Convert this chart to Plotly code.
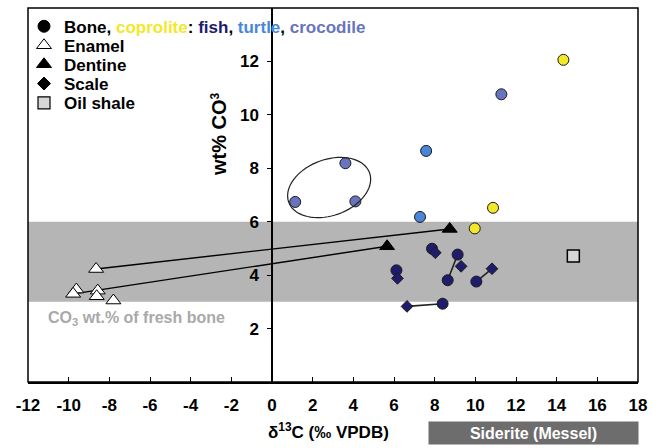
import math
import plotly.graph_objects as go

# ---------------- data ----------------
X_RANGE = [-12, 18]
Y_RANGE = [0, 14]
x_ticks = list(range(-12, 19, 2))
x_tick_labels = [str(v) for v in x_ticks]
y_ticks = [2, 4, 6, 8, 10, 12]
y_tick_labels = [str(v) for v in y_ticks]

enamel_x = [-8.65, -9.62, -9.78, -8.57, -8.62, -7.80]
enamel_y = [4.23, 3.46, 3.30, 3.42, 3.21, 3.05]
dentine_x = [5.66, 8.74]
dentine_y = [5.08, 5.73]
# enamel index -> dentine index
enamel_dentine_links = [(0, 1), (2, 0)]

fish_bone_x = [7.87, 9.13, 6.12, 8.64, 10.05, 8.39]
fish_bone_y = [4.99, 4.77, 4.18, 3.81, 3.76, 2.93]
fish_scale_x = [8.03, 9.30, 6.17, 10.82, 6.64]
fish_scale_y = [4.84, 4.33, 3.88, 4.24, 2.83]
# links: (kind, idx, kind, idx)
fish_links = [("bone", 1, "bone", 3), ("bone", 4, "scale", 3), ("scale", 4, "bone", 5)]

coprolite_x = [9.97, 10.87, 14.33]
coprolite_y = [5.75, 6.52, 12.06]
turtle_x = [7.58, 7.28]
turtle_y = [8.65, 6.18]
croc_x = [3.61, 1.14, 4.10, 11.28]
croc_y = [8.19, 6.74, 6.76, 10.77]
oil_x = [14.82]
oil_y = [4.72]

fresh_bone_band = [3, 6]

# ---------------- style ----------------
FONT = "Liberation Sans, Arial, Helvetica, sans-serif"
C_FISH = "#201c6c"
C_TURTLE = "#4a86d8"
C_CROC = "#6874bd"
C_COPRO = "#f2e82a"
C_BAND = "#b5b5b5"
EDGE = "#1a1a1a"

W, H = 660, 448
M = dict(l=28, r=22, t=8, b=66)
PW = W - M["l"] - M["r"]
PH = H - M["t"] - M["b"]

fig = go.Figure()

# connecting lines
for ei, di in enamel_dentine_links:
    fig.add_trace(go.Scatter(x=[enamel_x[ei], dentine_x[di]], y=[enamel_y[ei], dentine_y[di]],
                             mode="lines", line=dict(color="black", width=1.4),
                             showlegend=False, hoverinfo="skip"))


def pt(kind, i):
    if kind == "bone":
        return fish_bone_x[i], fish_bone_y[i]
    return fish_scale_x[i], fish_scale_y[i]


for k1, i1, k2, i2 in fish_links:
    a = pt(k1, i1)
    b = pt(k2, i2)
    fig.add_trace(go.Scatter(x=[a[0], b[0]], y=[a[1], b[1]], mode="lines",
                             line=dict(color="#222222", width=1.6),
                             showlegend=False, hoverinfo="skip"))


def circ(x, y, color):
    fig.add_trace(go.Scatter(x=x, y=y, mode="markers", showlegend=False,
                             marker=dict(symbol="circle", size=11, color=color,
                                         line=dict(color=EDGE, width=1))))


circ(coprolite_x, coprolite_y, C_COPRO)
circ(turtle_x, turtle_y, C_TURTLE)
circ(croc_x, croc_y, C_CROC)
circ(fish_bone_x, fish_bone_y, C_FISH)

fig.add_trace(go.Scatter(x=fish_scale_x, y=fish_scale_y, mode="markers", showlegend=False,
                         marker=dict(symbol="diamond", size=9, color=C_FISH,
                                     line=dict(color=EDGE, width=1))))
fig.add_trace(go.Scatter(x=enamel_x, y=enamel_y, mode="markers", showlegend=False,
                         marker=dict(symbol="triangle-up", size=13, color="white",
                                     line=dict(color="black", width=1))))
fig.add_trace(go.Scatter(x=dentine_x, y=dentine_y, mode="markers", showlegend=False,
                         marker=dict(symbol="triangle-up", size=13, color="black",
                                     line=dict(color="black", width=1))))
fig.add_trace(go.Scatter(x=oil_x, y=oil_y, mode="markers", showlegend=False,
                         marker=dict(symbol="square", size=12, color="#d6d6d6",
                                     line=dict(color="black", width=1.5))))

# ---------------- legend (one legend per row) ----------------
legend_items = [
    ('<b>Bone, <span style="color:%s">coprolite</span>: <span style="color:%s">fish</span>, '
     '<span style="color:%s">turtle</span>, <span style="color:%s">crocodile</span></b>'
     % (C_COPRO, C_FISH, C_TURTLE, C_CROC),
     dict(symbol="circle", size=12, color="black", line=dict(color="black", width=1))),
    ("<b>Enamel</b>", dict(symbol="triangle-up", size=13, color="white", line=dict(color="black", width=1))),
    ("<b>Dentine</b>", dict(symbol="triangle-up", size=13, color="black", line=dict(color="black", width=1))),
    ("<b>Scale</b>", dict(symbol="diamond", size=10, color="black", line=dict(color="black", width=1))),
    ("<b>Oil shale</b>", dict(symbol="square", size=12, color="#d6d6d6", line=dict(color="black", width=1.2))),
]
legend_rows_px = [26.7, 45.7, 64.7, 84.0, 103.3]
legend_layouts = {}
for n, ((name, mk), ypx) in enumerate(zip(legend_items, legend_rows_px)):
    lid = "legend" if n == 0 else "legend%d" % (n + 1)
    fig.add_trace(go.Scatter(x=[None], y=[None], mode="markers", name=name, marker=mk,
                             legend=lid, showlegend=True))
    legend_layouts[lid] = dict(x=(24 - M["l"]) / PW, y=(M["t"] + PH - ypx) / PH,
                               xanchor="left", yanchor="middle",
                               bgcolor="rgba(0,0,0,0)",
                               font=dict(family=FONT, size=17, color="black"))

# ---------------- shapes ----------------
shapes = [
    dict(type="rect", xref="x", yref="y", x0=X_RANGE[0], x1=X_RANGE[1],
         y0=fresh_bone_band[0], y1=fresh_bone_band[1],
         fillcolor=C_BAND, line=dict(width=0), layer="below"),
    dict(type="rect", xref="paper", yref="paper", x0=0, x1=1, y0=0, y1=1,
         line=dict(color="black", width=1.5), fillcolor="rgba(0,0,0,0)", layer="above"),
]

# ellipse around crocodile cluster (center in data units, semi-axes in pixels)
px_per_x = PW / (X_RANGE[1] - X_RANGE[0])
px_per_y = PH / (Y_RANGE[1] - Y_RANGE[0])
ell_cx, ell_cy = 2.81, 7.28
ell_a, ell_b, ell_ang = 43.0, 28.0, math.radians(20)
pts = []
for k in range(73):
    t = 2 * math.pi * k / 72
    dx = ell_a * math.cos(t) * math.cos(ell_ang) - ell_b * math.sin(t) * math.sin(ell_ang)
    dy = ell_a * math.cos(t) * math.sin(ell_ang) + ell_b * math.sin(t) * math.cos(ell_ang)
    pts.append((ell_cx + dx / px_per_x, ell_cy + dy / px_per_y))
path = "M " + " L ".join("%.4f,%.4f" % p for p in pts) + " Z"
shapes.append(dict(type="path", xref="x", yref="y", path=path,
                   line=dict(color="#222222", width=1.2), fillcolor="rgba(0,0,0,0)"))

# ---------------- annotations ----------------
def px2paper(xp, yp):
    return (xp - M["l"]) / PW, (M["t"] + PH - yp) / PH


annotations = []
ax_, ay_ = px2paper(219, 134)
annotations.append(dict(xref="paper", yref="paper", x=ax_, y=ay_,
                        text="<b>wt% CO<span style=\"font-size:17px\"><sup>3</sup></span></b>",
                        textangle=-90, showarrow=False, xanchor="center", yanchor="middle",
                        font=dict(family=FONT, size=20, color="black")))
ax_, ay_ = px2paper(328, 431)
annotations.append(dict(xref="paper", yref="paper", x=ax_, y=ay_,
                        text="<b>δ<sup>13</sup>C (‰ VPDB)</b>", showarrow=False,
                        xanchor="center", yanchor="middle",
                        font=dict(family=FONT, size=17, color="black")))
ax_, ay_ = px2paper(46, 318)
annotations.append(dict(xref="paper", yref="paper", x=ax_, y=ay_,
                        text="<b>CO<sub>3</sub> wt.% of fresh bone</b>", showarrow=False,
                        xanchor="left", yanchor="middle",
                        font=dict(family=FONT, size=16, color="#a9a9a9")))
ax_, ay_ = px2paper(533.5, 433)
annotations.append(dict(xref="paper", yref="paper", x=ax_, y=ay_,
                        text="<b>Siderite (Messel)</b>", showarrow=False,
                        xanchor="center", yanchor="middle", width=205, height=18,
                        bgcolor="#6d6d6d", borderpad=2,
                        font=dict(family=FONT, size=16, color="white")))

fig.update_layout(
    width=W, height=H, margin=M,
    paper_bgcolor="white", plot_bgcolor="white",
    font=dict(family=FONT, size=17, color="black"),
    shapes=shapes, annotations=annotations,
    xaxis=dict(range=X_RANGE, tickmode="array", tickvals=x_ticks,
               ticktext=["<b>%s</b>" % t for t in x_tick_labels],
               ticks="inside", ticklen=5, tickwidth=1.3,
               tickcolor="black", showline=True, linecolor="black", linewidth=1.5,
               showgrid=False, zeroline=False, ticklabelstandoff=7,
               tickfont=dict(family=FONT, size=17, color="black")),
    yaxis=dict(range=Y_RANGE, tickmode="array", tickvals=y_ticks,
               ticktext=["<b>%s</b>" % t for t in y_tick_labels],
               ticks="outside", ticklen=4, tickwidth=1.3,
               tickcolor="black", showline=True, linecolor="black", linewidth=1.5,
               showgrid=False, zeroline=False, anchor="free",
               position=(0 - X_RANGE[0]) / (X_RANGE[1] - X_RANGE[0]),
               ticklabelstandoff=5,
               tickfont=dict(family=FONT, size=17, color="black")),
    **legend_layouts,
)

fig.write_html("out.html")
